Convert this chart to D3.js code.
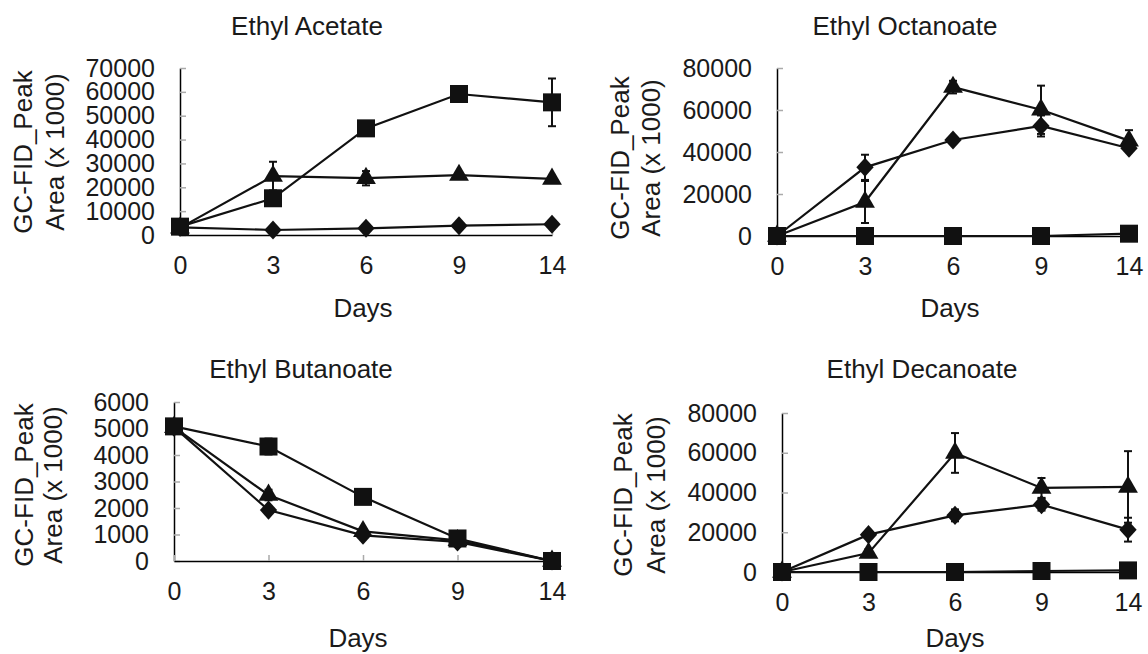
<!DOCTYPE html>
<html>
<head>
<meta charset="utf-8">
<script src="https://cdn.jsdelivr.net/npm/d3@7"></script>
<style>
  body { margin: 0; background: #fff; }
  text { font-family: "Liberation Sans", Arial, sans-serif; fill: #1a1a1a; }
</style>
</head>
<body>
<svg id="chart" width="1148" height="654"></svg>
<script>
// days on the x axis (categorical)
const days = ["0", "3", "6", "9", "14"];

// Ethyl Acetate
const acetateTri = [3000, 24700, 23800, 25100, 23500];
const acetateTriErr = [0, 6000, 3000, 1000, 1000];
const acetateDia = [3200, 2100, 2800, 3900, 4500];
const acetateDiaErr = [0, 300, 300, 300, 300];
const acetateSq = [3500, 15400, 44700, 59100, 55600];
const acetateSqErr = [0, 1500, 1500, 2000, 10000];

// Ethyl Octanoate
const octTri = [0, 16200, 70900, 60100, 45400];
const octTriErr = [0, 10000, 3000, 11500, 5000];
const octDia = [0, 32700, 45700, 52400, 41800];
const octDiaErr = [0, 6000, 1000, 5000, 1000];
const octSq = [0, 0, 0, 0, 1100];
const octSqErr = [0, 0, 0, 0, 0];

// Ethyl Butanoate
const butTri = [5050, 2490, 1120, 780, 0];
const butTriErr = [0, 200, 100, 100, 0];
const butDia = [5050, 1920, 970, 720, 0];
const butDiaErr = [0, 100, 100, 100, 0];
const butSq = [5080, 4320, 2420, 850, 0];
const butSqErr = [0, 300, 100, 100, 0];

// Ethyl Decanoate
const decTri = [0, 9500, 59900, 42300, 42800];
const decTriErr = [0, 2000, 10000, 5000, 18000];
const decDia = [0, 18800, 28500, 33900, 21300];
const decDiaErr = [0, 1000, 3000, 3000, 6000];
const decSq = [0, 0, 0, 500, 800];
const decSqErr = [0, 0, 0, 0, 0];

const panels = [
  { title: "Ethyl Acetate", max: 70000, step: 10000,
    x0: 180, x1: 552, y0: 235, y1: 68, tx: 307, ty: 35, dx: 363, dy: 317, gx: 23, ax: 55, ly: 152,
    series: [[acetateTri, acetateTriErr, "tri"], [acetateDia, acetateDiaErr, "dia"], [acetateSq, acetateSqErr, "sq"]] },
  { title: "Ethyl Octanoate", max: 80000, step: 20000,
    x0: 777, x1: 1129, y0: 236, y1: 68, tx: 905, ty: 35, dx: 950, dy: 317, gx: 620, ax: 651, ly: 158,
    series: [[octTri, octTriErr, "tri"], [octDia, octDiaErr, "dia"], [octSq, octSqErr, "sq"]] },
  { title: "Ethyl Butanoate", max: 6000, step: 1000,
    x0: 174, x1: 552, y0: 561, y1: 402, tx: 301, ty: 378, dx: 358, dy: 647, gx: 24, ax: 53, ly: 485,
    series: [[butTri, butTriErr, "tri"], [butDia, butDiaErr, "dia"], [butSq, butSqErr, "sq"]] },
  { title: "Ethyl Decanoate", max: 80000, step: 20000,
    x0: 782, x1: 1128, y0: 572, y1: 413, tx: 922, ty: 378, dx: 955, dy: 647, gx: 623, ax: 656, ly: 495,
    series: [[decTri, decTriErr, "tri"], [decDia, decDiaErr, "dia"], [decSq, decSqErr, "sq"]] }
];

const diamond = {
  draw(ctx, size) {
    const r = Math.sqrt(size) / 2;
    ctx.moveTo(0, -r * 1.1);
    ctx.lineTo(r, 0);
    ctx.lineTo(0, r * 1.1);
    ctx.lineTo(-r, 0);
    ctx.closePath();
  }
};
const shapes = {
  tri: d3.symbol().type(d3.symbolTriangle).size(170),
  dia: d3.symbol().type(diamond).size(300),
  sq: d3.symbol().type(d3.symbolSquare).size(324)
};

const svg = d3.select("#chart");
const fs = 26;
const tickFs = 25;

panels.forEach(p => {
  const g = svg.append("g");
  const x = d3.scalePoint().domain(days).range([p.x0, p.x1]);
  const y = d3.scaleLinear().domain([0, p.max]).range([p.y0, p.y1]);

  const yAxis = d3.axisLeft(y)
    .tickValues(d3.range(0, p.max + 1, p.step))
    .tickFormat(d3.format("d"))
    .tickSizeInner(-6).tickSizeOuter(0).tickPadding(25);
  const ya = g.append("g").attr("transform", `translate(${p.x0},0)`).call(yAxis);

  const xAxis = d3.axisBottom(x).tickSizeInner(-6).tickSizeOuter(0).tickPadding(21);
  const xa = g.append("g").attr("transform", `translate(0,${p.y0})`).call(xAxis);

  [ya, xa].forEach(a => {
    a.select(".domain").attr("stroke", "#000").attr("stroke-width", 1.5);
    a.selectAll(".tick line").attr("stroke", "#aaa").attr("stroke-width", 1.5);
    a.selectAll(".tick text").attr("font-size", tickFs).attr("fill", "#1a1a1a")
      .attr("font-family", "Liberation Sans, Arial, sans-serif");
  });

  g.append("text").attr("x", p.tx).attr("y", p.ty).attr("text-anchor", "middle")
    .attr("font-size", fs).text(p.title);
  g.append("text").attr("x", p.dx).attr("y", p.dy).attr("text-anchor", "middle")
    .attr("font-size", fs).text("Days");
  g.append("text").attr("transform", `translate(${p.gx},${p.ly}) rotate(-90)`)
    .attr("text-anchor", "middle").attr("dy", "0.35em").attr("font-size", fs).text("GC-FID_Peak");
  g.append("text").attr("transform", `translate(${p.ax},${p.ly}) rotate(-90)`)
    .attr("text-anchor", "middle").attr("dy", "0.35em").attr("font-size", fs).text("Area (x 1000)");

  const line = d3.line().x((d, i) => x(days[i])).y(d => y(d));

  p.series.forEach(([vals, errs, shape]) => {
    const s = g.append("g");
    s.append("path").datum(vals).attr("d", line)
      .attr("fill", "none").attr("stroke", "#111").attr("stroke-width", 2.2);

    const eb = s.selectAll(".err").data(vals.map((v, i) => ({ v, e: errs[i], d: days[i] })).filter(d => d.e > 0))
      .enter().append("g").attr("stroke", "#111").attr("stroke-width", 2);
    eb.append("line").attr("x1", d => x(d.d)).attr("x2", d => x(d.d))
      .attr("y1", d => y(d.v + d.e)).attr("y2", d => y(Math.max(0, d.v - d.e)));
    eb.append("line").attr("x1", d => x(d.d) - 4).attr("x2", d => x(d.d) + 4)
      .attr("y1", d => y(d.v + d.e)).attr("y2", d => y(d.v + d.e));
    eb.append("line").attr("x1", d => x(d.d) - 4).attr("x2", d => x(d.d) + 4)
      .attr("y1", d => y(Math.max(0, d.v - d.e))).attr("y2", d => y(Math.max(0, d.v - d.e)));

    s.selectAll(".mk").data(vals).enter().append("path")
      .attr("transform", (d, i) => `translate(${x(days[i])},${y(d)})`)
      .attr("d", shapes[shape]).attr("fill", "#111");
  });
});
</script>
</body>
</html>
